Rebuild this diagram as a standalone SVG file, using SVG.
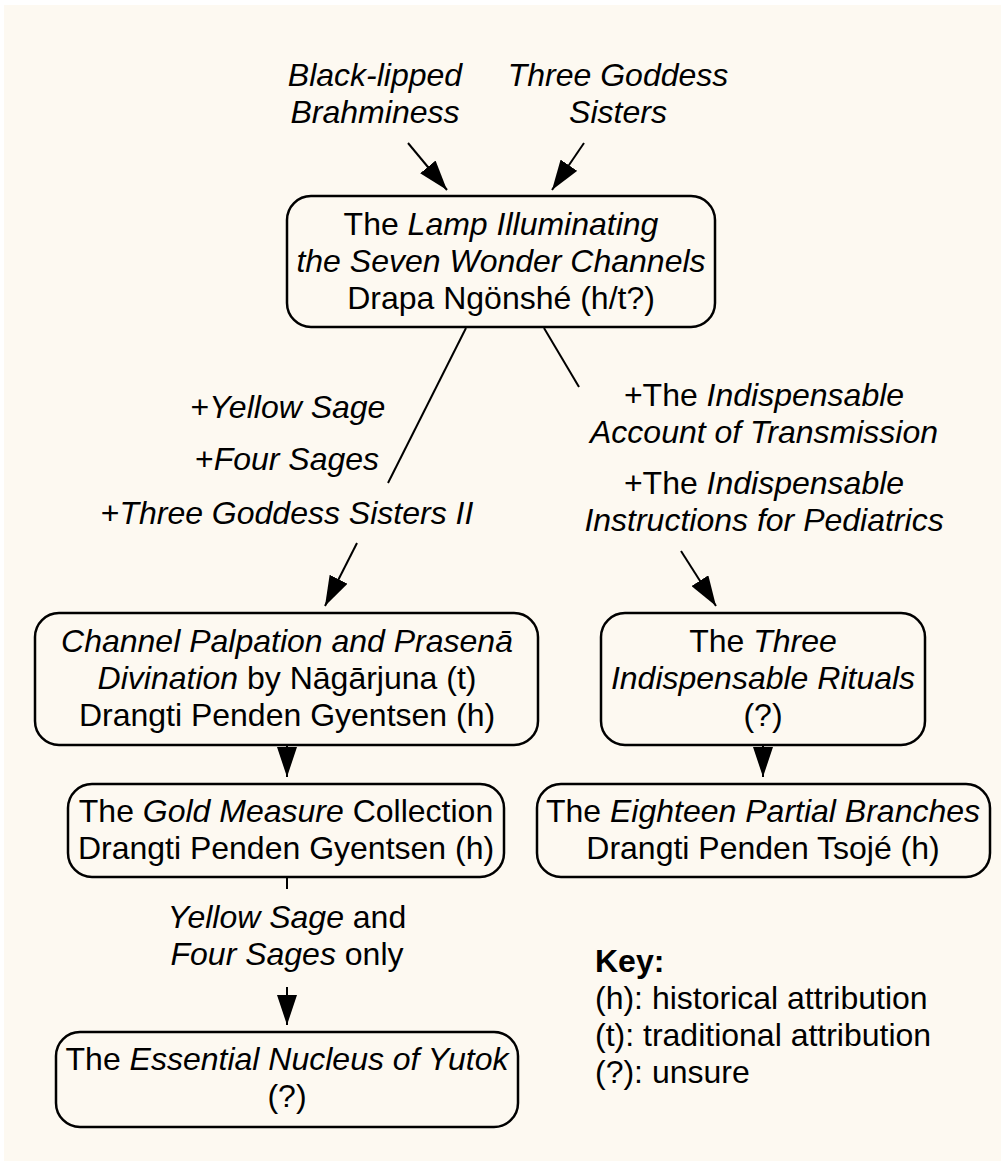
<svg xmlns="http://www.w3.org/2000/svg" width="1005" height="1164" viewBox="0 0 1005 1164">
  <style>
    text { font-family: "Liberation Sans", Arial, Helvetica, sans-serif; font-size: 32px; fill: #000; }
    .c { text-anchor: middle; }
    .i { font-style: italic; }
    .b { font-weight: bold; }
    .box { fill: none; stroke: #000; stroke-width: 2.5; }
    .edge { fill: none; stroke: #000; stroke-width: 2; }
  </style>
  <defs>
    <marker id="arrow" markerUnits="userSpaceOnUse" viewBox="0 0 30 20" refX="30" refY="10" markerWidth="30" markerHeight="20" orient="auto">
      <path d="M0,0 L30,10 L0,20 Z" fill="#000"/>
    </marker>
  </defs>

  <rect x="0" y="0" width="1005" height="1164" fill="#ffffff"/>
  <rect x="4" y="5" width="997" height="1156" fill="#fdf9f1"/>

  <!-- connectors -->
  <g id="connectors">
    <line class="edge" x1="408" y1="143" x2="447" y2="190" marker-end="url(#arrow)"/>
    <line class="edge" x1="584" y1="143" x2="552" y2="190" marker-end="url(#arrow)"/>
    <line class="edge" x1="466" y1="328" x2="388" y2="483"/>
    <line class="edge" x1="357" y1="543" x2="325" y2="606" marker-end="url(#arrow)"/>
    <line class="edge" x1="544" y1="328" x2="579" y2="387"/>
    <line class="edge" x1="681" y1="551" x2="716" y2="606" marker-end="url(#arrow)"/>
    <line class="edge" x1="287" y1="745" x2="287" y2="777" marker-end="url(#arrow)"/>
    <line class="edge" x1="763" y1="745" x2="763" y2="777" marker-end="url(#arrow)"/>
    <line class="edge" x1="287" y1="877" x2="287" y2="889"/>
    <line class="edge" x1="287" y1="987" x2="287" y2="1025" marker-end="url(#arrow)"/>
  </g>

  <!-- connector labels -->
  <g id="edge-labels">
    <text class="c i" x="375" y="86">Black-lipped</text>
    <text class="c i" x="375" y="123">Brahminess</text>
    <text class="c i" x="618" y="86">Three Goddess</text>
    <text class="c i" x="618" y="123">Sisters</text>

    <text class="c" x="288" y="418">+<tspan class="i">Yellow Sage</tspan></text>
    <text class="c" x="287" y="470">+<tspan class="i">Four Sages</tspan></text>
    <text class="c" x="287" y="524">+<tspan class="i">Three Goddess Sisters II</tspan></text>

    <text class="c" x="764" y="406">+The <tspan class="i">Indispensable</tspan></text>
    <text class="c i" x="764" y="443">Account of Transmission</text>
    <text class="c" x="764" y="494">+The <tspan class="i">Indispensable</tspan></text>
    <text class="c i" x="764" y="531">Instructions for Pediatrics</text>

    <text class="c" x="287" y="928"><tspan class="i">Yellow Sage</tspan> and</text>
    <text class="c" x="287" y="965"><tspan class="i">Four Sages</tspan> only</text>
  </g>

  <!-- nodes -->
  <g id="lamp">
    <rect class="box" x="287" y="196" width="428" height="131" rx="24"/>
    <text class="c" x="501" y="235">The <tspan class="i">Lamp Illuminating</tspan></text>
    <text class="c i" x="501" y="272">the Seven Wonder Channels</text>
    <text class="c" x="501" y="309">Drapa Ngönshé (h/t?)</text>
  </g>

  <g id="channel-palpation">
    <rect class="box" x="35" y="613" width="503" height="132" rx="24"/>
    <text class="c i" x="287" y="652">Channel Palpation and Prasenā</text>
    <text class="c" x="287" y="689"><tspan class="i">Divination</tspan> by Nāgārjuna (t)</text>
    <text class="c" x="287" y="726">Drangti Penden Gyentsen (h)</text>
  </g>

  <g id="three-rituals">
    <rect class="box" x="601" y="613" width="324" height="132" rx="24"/>
    <text class="c" x="763" y="652">The <tspan class="i">Three</tspan></text>
    <text class="c i" x="763" y="689">Indispensable Rituals</text>
    <text class="c" x="763" y="726">(?)</text>
  </g>

  <g id="gold-measure">
    <rect class="box" x="68" y="784" width="436" height="93" rx="24"/>
    <text class="c" x="286" y="822">The <tspan class="i">Gold Measure</tspan> Collection</text>
    <text class="c" x="286" y="859">Drangti Penden Gyentsen (h)</text>
  </g>

  <g id="eighteen-branches">
    <rect class="box" x="537" y="784" width="453" height="93" rx="24"/>
    <text class="c" x="763" y="822">The <tspan class="i">Eighteen Partial Branches</tspan></text>
    <text class="c" x="763" y="859">Drangti Penden Tsojé (h)</text>
  </g>

  <g id="essential-nucleus">
    <rect class="box" x="56" y="1032" width="462" height="95" rx="24"/>
    <text class="c" x="287" y="1070">The <tspan class="i">Essential Nucleus of Yutok</tspan></text>
    <text class="c" x="287" y="1107">(?)</text>
  </g>

  <!-- key -->
  <g id="key">
    <text class="b" x="595" y="972">Key:</text>
    <text x="595" y="1009">(h): historical attribution</text>
    <text x="595" y="1046">(t): traditional attribution</text>
    <text x="595" y="1083">(?): unsure</text>
  </g>
</svg>
